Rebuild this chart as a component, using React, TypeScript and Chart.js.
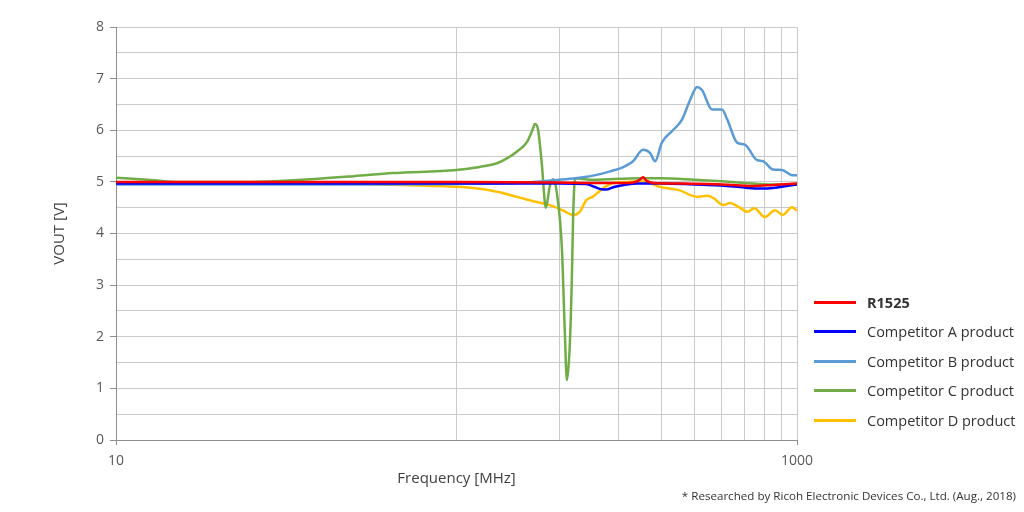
import React, { useEffect, useRef } from "react";
import { Chart, registerables } from "chart.js";

Chart.register(...registerables);

const FONT = "'Open Sans', 'Noto Sans', sans-serif";

// Series names and colours
const seriesNames = [
  "R1525",
  "Competitor A product",
  "Competitor B product",
  "Competitor C product",
  "Competitor D product",
];
const seriesColors = ["#ff0000", "#0000ff", "#5b9bd5", "#70ad47", "#ffc000"];

// Frequency [MHz] / VOUT [V] samples
const r1525Freq = [10, 50, 100, 200, 250, 300, 330, 345, 353, 362, 380, 450, 550, 650, 750, 850, 1000];
const r1525Vout = [5.0, 5.0, 5.0, 4.99, 4.98, 4.98, 4.99, 5.04, 5.09, 5.02, 4.98, 4.97, 4.96, 4.94, 4.92, 4.94, 4.97];

const compAFreq = [10, 50, 100, 200, 240, 255, 265, 275, 290, 310, 340, 400, 500, 600, 700, 780, 850, 950, 1000];
const compAVout = [4.97, 4.97, 4.97, 4.97, 4.96, 4.9, 4.86, 4.85, 4.9, 4.94, 4.97, 4.97, 4.95, 4.93, 4.89, 4.87, 4.88, 4.93, 4.95];

const compBFreq = [10, 50, 100, 150, 180, 200, 230, 264, 288, 302, 330, 353, 370, 383, 401, 432, 459, 485, 509, 526, 563, 602, 623, 667, 703, 763, 795, 850, 904, 967, 1000];
const compBVout = [4.95, 4.95, 4.96, 4.98, 5.01, 5.04, 5.08, 5.15, 5.22, 5.26, 5.4, 5.62, 5.56, 5.4, 5.76, 6.0, 6.2, 6.58, 6.84, 6.78, 6.4, 6.4, 6.22, 5.76, 5.72, 5.42, 5.4, 5.24, 5.23, 5.13, 5.13];

const compCFreq = [10, 13, 15, 25, 35, 50, 65, 100, 117, 131.5, 141, 150, 161, 167, 170, 173.5, 178, 183, 188, 192, 197, 204, 208, 211, 215, 218, 220, 223, 247, 300, 350, 400, 500, 600, 700, 850, 1000];
const compCVout = [5.08, 5.03, 5.0, 5.0, 5.04, 5.11, 5.17, 5.23, 5.29, 5.36, 5.46, 5.58, 5.77, 6.0, 6.12, 6.02, 5.36, 4.5, 4.92, 5.05, 4.8, 3.7, 2.1, 1.16, 1.8, 3.04, 4.3, 5.07, 5.04, 5.06, 5.07, 5.07, 5.04, 5.01, 4.98, 4.95, 4.96];

const compDFreq = [10, 30, 50, 70, 89, 112, 131.5, 150.5, 167, 188, 205, 220, 230, 241, 251, 270, 288, 316, 353, 397, 450, 509, 546, 567, 607, 636, 675, 716, 749, 805, 862, 908, 967, 1000];
const compDVout = [4.97, 4.97, 4.96, 4.94, 4.92, 4.88, 4.81, 4.71, 4.63, 4.55, 4.45, 4.36, 4.42, 4.65, 4.71, 4.88, 4.98, 5.0, 5.01, 4.9, 4.84, 4.71, 4.73, 4.69, 4.55, 4.59, 4.51, 4.42, 4.49, 4.32, 4.45, 4.36, 4.51, 4.44];

const seriesFreqs = [r1525Freq, compAFreq, compBFreq, compCFreq, compDFreq];
const seriesVouts = [r1525Vout, compAVout, compBVout, compCVout, compDVout];

// Axis ticks
const xTickValues = [10, 100, 200, 300, 400, 500, 600, 700, 800, 900, 1000];
const xLabeledTicks = [10, 1000];
const yMin = 0;
const yMax = 8;
const yGridStep = 0.5;

const GRID = "#cacaca";
const AXIS = "#8e8e8e";
const TICK_TEXT = "#595959";
const TITLE_TEXT = "#404040";

export default function App() {
  const ref = useRef<HTMLCanvasElement>(null);

  useEffect(() => {
    const datasets = seriesNames.map((name, i) => ({
      label: name,
      data: seriesFreqs[i].map((f, j) => ({ x: f, y: seriesVouts[i][j] })),
      borderColor: seriesColors[i],
      backgroundColor: seriesColors[i],
      borderWidth: 2.5,
      pointRadius: 0,
      cubicInterpolationMode: "monotone" as const,
      fill: false,
    }));

    const chart = new Chart(ref.current!, {
      type: "line",
      data: { datasets },
      options: {
        animation: false,
        responsive: false,
        devicePixelRatio: 1,
        parsing: false as any,
        layout: { padding: { top: 27, right: 227, bottom: 0, left: 0 } },
        plugins: {
          legend: { display: false },
          tooltip: { enabled: false },
        },
        scales: {
          x: {
            type: "logarithmic",
            min: 10,
            max: 1000,
            afterBuildTicks: (scale: any) => {
              scale.ticks = xTickValues.map((v) => ({ value: v }));
            },
            afterFit: (scale: any) => {
              scale.height = 72;
            },
            ticks: {
              autoSkip: false,
              maxRotation: 0,
              padding: 8,
              color: TICK_TEXT,
              font: { family: FONT, size: 14 },
              callback: (v: any) => (xLabeledTicks.includes(Number(v)) ? String(v) : ""),
            },
            grid: {
              color: (ctx: any) => (ctx.tick && ctx.tick.value === 10 ? "rgba(0,0,0,0)" : GRID),
              tickColor: (ctx: any) =>
                ctx.tick && xLabeledTicks.includes(ctx.tick.value) ? AXIS : "rgba(0,0,0,0)",
              tickLength: 5,
              lineWidth: 1,
            },
            border: { color: AXIS, width: 1 },
            title: {
              display: true,
              text: "Frequency [MHz]",
              color: TITLE_TEXT,
              font: { family: FONT, size: 15 },
              padding: { top: 0, bottom: 24 },
            },
          },
          y: {
            min: yMin,
            max: yMax,
            afterFit: (scale: any) => {
              scale.width = 116;
            },
            ticks: {
              stepSize: yGridStep,
              autoSkip: false,
              padding: 6,
              color: TICK_TEXT,
              font: { family: FONT, size: 14 },
              callback: (v: any) => (Number(v) % 1 === 0 ? String(v) : ""),
            },
            grid: {
              color: GRID,
              tickColor: (ctx: any) =>
                ctx.tick && ctx.tick.value % 1 === 0 ? AXIS : "rgba(0,0,0,0)",
              tickLength: 6,
              lineWidth: 1,
            },
            border: { color: AXIS, width: 1 },
            title: {
              display: true,
              text: "VOUT [V]",
              color: TITLE_TEXT,
              font: { family: FONT, size: 15 },
              padding: { top: 51, bottom: 0 },
            },
          },
        },
      },
    });
    return () => chart.destroy();
  }, []);

  return (
    <div
      style={{
        position: "fixed",
        left: 0,
        top: 0,
        width: 1024,
        height: 512,
        background: "#ffffff",
        fontFamily: FONT,
        overflow: "hidden",
      }}
    >
      <canvas
        ref={ref}
        width={1024}
        height={512}
        style={{ position: "absolute", left: 0, top: 0, width: 1024, height: 512 }}
      />
      {seriesNames.map((name, i) => (
        <div
          key={name}
          style={{
            position: "absolute",
            left: 814,
            top: 302 + i * 29.5 - 12,
            height: 24,
            display: "flex",
            alignItems: "center",
            whiteSpace: "nowrap",
          }}
        >
          <div style={{ width: 42, height: 3, background: seriesColors[i] }} />
          <span
            style={{
              marginLeft: 11,
              fontSize: 14.5,
              color: "#333333",
              fontWeight: i === 0 ? 700 : 400,
            }}
          >
            {name}
          </span>
        </div>
      ))}
      <div
        style={{
          position: "absolute",
          right: 8,
          top: 488,
          fontSize: 11.6,
          color: "#333333",
          whiteSpace: "nowrap",
        }}
      >
        * Researched by Ricoh Electronic Devices Co., Ltd. (Aug., 2018)
      </div>
    </div>
  );
}
